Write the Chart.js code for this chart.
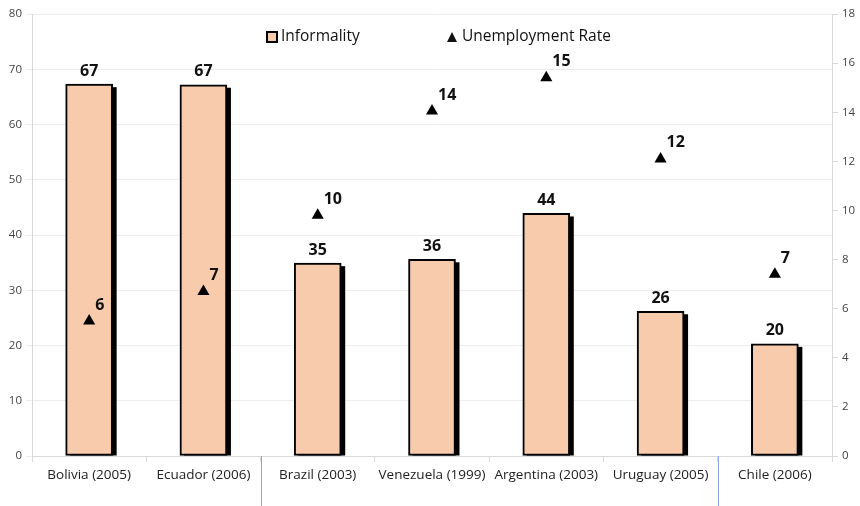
<!DOCTYPE html>
<html>
<head>
<meta charset="utf-8">
<script src="https://cdn.jsdelivr.net/npm/chart.js@4"></script>
<style>
  html, body { margin: 0; padding: 0; background: #fff; }
  #wrap { width: 860px; height: 506px; }
</style>
</head>
<body>
<div id="wrap"><canvas id="chart" width="860" height="506"></canvas></div>
<script>
const countries = ['Bolivia (2005)', 'Ecuador (2006)', 'Brazil (2003)', 'Venezuela (1999)', 'Argentina (2003)', 'Uruguay (2005)', 'Chile (2006)'];
const informality = [67.3, 67.2, 34.9, 35.6, 43.9, 26.2, 20.3];
const informalityLabels = ['67', '67', '35', '36', '44', '26', '20'];
const unemployment = [5.5, 6.7, 9.8, 14.05, 15.4, 12.1, 7.4];
const unemploymentLabels = ['6', '7', '10', '14', '15', '12', '7'];
const leftTicks = [0, 10, 20, 30, 40, 50, 60, 70, 80];
const rightTicks = [0, 2, 4, 6, 8, 10, 12, 14, 16, 18];
const separatorsAfter = [1, 5]; // blue lines after Ecuador and Uruguay

const FONT = "'Open Sans', 'Liberation Sans', sans-serif";
const PEACH = '#f8cbad';

// black drop shadow behind each bar
const barShadow = {
  id: 'barShadow',
  beforeDatasetDraw(chart, args) {
    if (args.index !== 0) return;
    const ctx = chart.ctx;
    ctx.save();
    ctx.fillStyle = '#000';
    args.meta.data.forEach(bar => {
      const p = bar.getProps(['x', 'y', 'base', 'width'], true);
      ctx.fillRect(p.x - p.width / 2 + 4, p.y + 3, p.width, p.base - p.y - 3);
    });
    ctx.restore();
  }
};

// value labels above bars and beside triangles
const valueLabels = {
  id: 'valueLabels',
  afterDatasetsDraw(chart) {
    const ctx = chart.ctx;
    ctx.save();
    ctx.fillStyle = '#111';
    ctx.font = "bold 16px " + FONT;
    chart.getDatasetMeta(0).data.forEach((bar, i) => {
      ctx.textAlign = 'center';
      ctx.textBaseline = 'bottom';
      ctx.fillText(informalityLabels[i], bar.x, bar.y - 5);
    });
    chart.getDatasetMeta(1).data.forEach((pt, i) => {
      ctx.textAlign = 'left';
      ctx.textBaseline = 'bottom';
      ctx.fillText(unemploymentLabels[i], pt.x + 6, pt.y - 8);
    });
    ctx.restore();
  }
};

// blue separators below the axis and a legend drawn inside the plot
const extras = {
  id: 'extras',
  afterDraw(chart) {
    const ctx = chart.ctx;
    const x = chart.scales.x;
    const area = chart.chartArea;
    ctx.save();
    ctx.strokeStyle = '#8fa8d6';
    ctx.lineWidth = 1;
    separatorsAfter.forEach(i => {
      const sx = Math.round((x.getPixelForValue(i) + x.getPixelForValue(i + 1)) / 2) + 0.5;
      ctx.beginPath();
      ctx.moveTo(sx, area.bottom);
      ctx.lineTo(sx, chart.height);
      ctx.stroke();
    });

    // legend
    const ly = 37;
    ctx.font = "15.5px " + FONT;
    ctx.textBaseline = 'middle';
    ctx.textAlign = 'left';
    ctx.fillStyle = PEACH;
    ctx.fillRect(267, ly - 5, 10, 10);
    ctx.strokeStyle = '#000';
    ctx.lineWidth = 2;
    ctx.strokeRect(267, ly - 5, 10, 10);
    ctx.fillStyle = '#111';
    ctx.fillText(chart.data.datasets[0].label, 281, ly);
    ctx.beginPath();
    ctx.moveTo(452, ly - 5);
    ctx.lineTo(457, ly + 5);
    ctx.lineTo(447, ly + 5);
    ctx.closePath();
    ctx.fill();
    ctx.fillText(chart.data.datasets[1].label, 462, ly);
    ctx.restore();
  }
};

new Chart(document.getElementById('chart'), {
  data: {
    labels: countries,
    datasets: [
      {
        type: 'bar',
        label: 'Informality',
        data: informality,
        backgroundColor: PEACH,
        borderColor: '#000',
        borderWidth: 2,
        borderSkipped: false,
        barThickness: 47,
        yAxisID: 'y',
        order: 1
      },
      {
        type: 'line',
        label: 'Unemployment Rate',
        data: unemployment,
        showLine: false,
        pointStyle: 'triangle',
        pointRadius: 7,
        pointBackgroundColor: '#000',
        pointBorderColor: '#000',
        pointBorderWidth: 0,
        yAxisID: 'y1',
        order: 0
      }
    ]
  },
  options: {
    responsive: false,
    animation: false,
    events: [],
    layout: { padding: { top: 14, bottom: 0, left: 0, right: 0 } },
    plugins: {
      legend: { display: false },
      tooltip: { enabled: false }
    },
    scales: {
      x: {
        offset: true,
        grid: { drawOnChartArea: false, drawTicks: true, tickLength: 6, color: '#d9d9d9', offset: true },
        border: { color: '#d9d9d9' },
        ticks: { color: '#222', font: { family: FONT, size: 13.5 }, padding: 5, maxRotation: 0 },
        afterFit(s) { s.height = 50; }
      },
      y: {
        position: 'left',
        min: leftTicks[0],
        max: leftTicks[leftTicks.length - 1],
        afterBuildTicks(s) { s.ticks = leftTicks.map(v => ({ value: v })); },
        grid: { color: '#ececec', tickLength: 6 },
        border: { color: '#d9d9d9' },
        ticks: { color: '#444', font: { family: FONT, size: 11.5 }, padding: 4 },
        afterFit(s) { s.width = 32; }
      },
      y1: {
        position: 'right',
        min: rightTicks[0],
        max: rightTicks[rightTicks.length - 1],
        afterBuildTicks(s) { s.ticks = rightTicks.map(v => ({ value: v })); },
        grid: { drawOnChartArea: false, tickLength: 6, color: '#d9d9d9' },
        border: { color: '#d9d9d9' },
        ticks: { color: '#444', font: { family: FONT, size: 11.5 }, padding: 4 },
        afterFit(s) { s.width = 28; }
      }
    }
  },
  plugins: [barShadow, valueLabels, extras]
});
</script>
</body>
</html>
